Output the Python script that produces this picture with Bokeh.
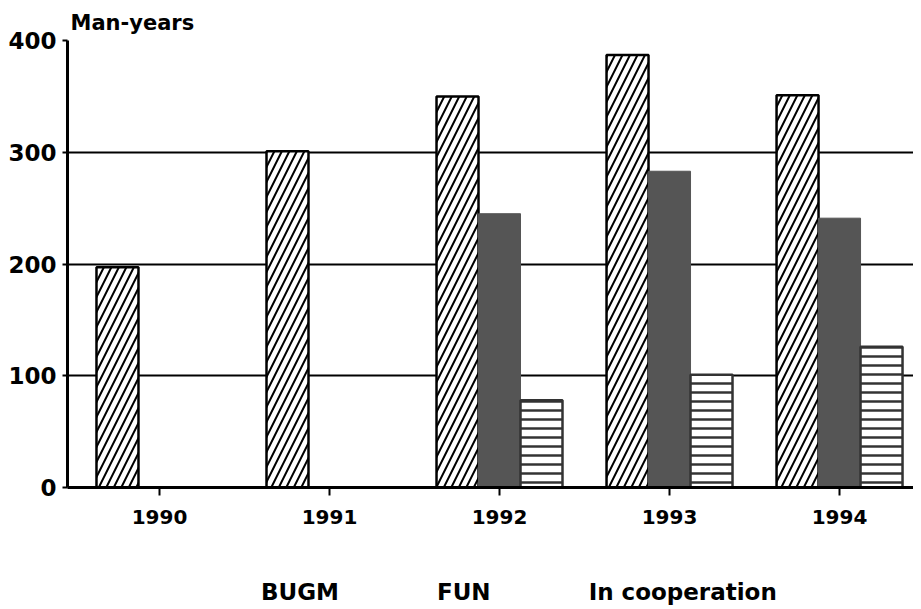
from bokeh.plotting import figure
from bokeh.layouts import column
from bokeh.models import (ColumnDataSource, Range1d, Legend, LegendItem, Title, FixedTicker,
                          CDSView, IndexFilter)
from bokeh.embed import file_html
from bokeh.resources import INLINE

years = [1990, 1991, 1992, 1993, 1994]
bugm = [197, 301, 350, 387, 351]
fun = [0, 0, 245, 283, 241]
coop = [0, 0, 78, 101, 126]
y_ticks = [0, 100, 200, 300, 400]
series = ["BUGM", "FUN", "In cooperation"]

FONT = "DejaVu Sans"
W = 0.247

STY_B = dict(fill_color="white", line_color="black", line_width=2.5, hatch_pattern="/",
             hatch_color="black", hatch_scale=15, hatch_weight=2)
STY_F = dict(fill_color="#555555", line_color="#555555", line_width=1)
STY_C = dict(fill_color="white", line_color="#333333", line_width=2.5, hatch_pattern="-",
             hatch_color="#333333", hatch_scale=9, hatch_weight=2.5)

p = figure(width=913, height=545, output_backend="svg", toolbar_location=None,
           x_range=Range1d(1989.459, 1994.435), y_range=Range1d(0, 400),
           min_border_left=67, min_border_right=0, min_border_top=40, min_border_bottom=58)
p.outline_line_color = None
p.background_fill_color = "white"

src_b = ColumnDataSource(dict(x=[y - W for y in years], top=bugm))
p.vbar(x="x", top="top", width=W, source=src_b, **STY_B)
src_f = ColumnDataSource(dict(x=[y for y, v in zip(years, fun) if v > 0],
                              top=[v for v in fun if v > 0]))
p.vbar(x="x", top="top", width=W, source=src_f, **STY_F)
src_c = ColumnDataSource(dict(x=[y + W for y, v in zip(years, coop) if v > 0],
                              top=[v for v in coop if v > 0]))
p.vbar(x="x", top="top", width=W, source=src_c, **STY_C)

p.xgrid.grid_line_color = None
p.ygrid.grid_line_color = "black"
p.ygrid.grid_line_width = 2
p.ygrid.ticker = FixedTicker(ticks=y_ticks)

p.yaxis.ticker = FixedTicker(ticks=y_ticks)
p.xaxis.ticker = FixedTicker(ticks=years)
for ax in (p.xaxis, p.yaxis):
    ax.axis_line_width = 3
    ax.axis_line_color = "black"
    ax.major_tick_line_color = "black"
    ax.major_tick_line_width = 2
    ax.major_tick_in = 0
    ax.minor_tick_line_color = None
    ax.major_label_text_font = FONT
    ax.major_label_text_font_style = "bold"
    ax.major_label_text_color = "black"
p.xaxis.major_label_text_font_size = "20px"
p.yaxis.major_label_text_font_size = "23px"
p.xaxis.major_tick_out = 8
p.yaxis.major_tick_out = 5
p.xaxis.major_label_standoff = 14
p.yaxis.major_label_standoff = 6

title = Title(text="Man-years", align="left", offset=3, text_font=FONT,
              text_font_style="bold", text_font_size="21px", text_color="black",
              standoff=11)
p.add_layout(title, "above")

# legend strip: proxy renderers share the bar sources but show no rows (empty view)
p2 = figure(width=913, height=64, output_backend="svg", toolbar_location=None,
            x_axis_type=None, y_axis_type=None, x_range=Range1d(0, 1), y_range=Range1d(0, 1),
            min_border_left=67, min_border_right=0, min_border_top=0, min_border_bottom=0)
p2.outline_line_color = None
p2.grid.visible = False
l_b = p2.vbar(x="x", top="top", width=W, source=src_b,
              view=CDSView(filter=IndexFilter([])), **STY_B)
l_f = p2.vbar(x="x", top="top", width=W, source=src_f,
              view=CDSView(filter=IndexFilter([])), **STY_F)
l_c = p2.vbar(x="x", top="top", width=W, source=src_c,
              view=CDSView(filter=IndexFilter([])), **STY_C)

legend = Legend(items=[LegendItem(label=series[0], renderers=[l_b]),
                       LegendItem(label=series[1], renderers=[l_f]),
                       LegendItem(label=series[2], renderers=[l_c])],
                orientation="horizontal", location=(138, 4),
                glyph_width=45, glyph_height=20, spacing=42, label_standoff=11,
                label_text_font=FONT, label_text_font_style="bold",
                label_text_font_size="23px", label_text_color="black",
                border_line_color=None, background_fill_alpha=0,
                margin=0, padding=0)
p2.add_layout(legend)

open("out.html", "w").write(file_html(column(p, p2, spacing=0), INLINE))
